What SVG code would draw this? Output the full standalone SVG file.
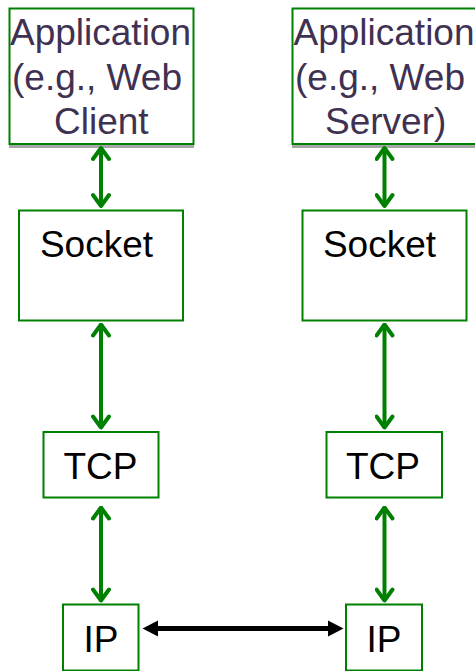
<svg xmlns="http://www.w3.org/2000/svg" width="475" height="671" viewBox="0 0 475 671">
  <style>
    .box { fill: #ffffff; stroke: #008000; stroke-width: 2; }
    .shadow { fill: #a6a6a6; }
    .app { font-family: "Liberation Sans", Arial, sans-serif; font-size: 37px; fill: #3f3151; }
    .lbl { font-family: "Liberation Sans", Arial, sans-serif; font-size: 37px; fill: #000000; text-anchor: middle; }
    .g { stroke: #008000; stroke-width: 4; fill: none; }
    .k { stroke: #000000; stroke-width: 5; fill: none; }
  </style>
  <defs>
    <marker id="chev" markerUnits="userSpaceOnUse" viewBox="-14 -10 16 20" markerWidth="16" markerHeight="20" refX="0" refY="0" orient="auto-start-reverse">
      <path d="M-11,-8 L0,0 L-11,8" fill="none" stroke="#008000" stroke-width="4" stroke-linecap="round" stroke-linejoin="round"/>
    </marker>
    <marker id="tri" markerUnits="userSpaceOnUse" viewBox="0 -9 16 18" markerWidth="16" markerHeight="18" refX="5" refY="0" orient="auto-start-reverse">
      <path d="M0,-8 L15.5,0 L0,8 Z" fill="#000000"/>
    </marker>
  </defs>

  <g id="app-client">
    <rect class="shadow" x="9" y="12" width="185" height="136"/>
    <rect class="box" x="9.5" y="8.5" width="184" height="135.5"/>
    <text class="app" x="10" y="45">Application</text>
    <text class="app" x="12" y="89.5">(e.g., Web</text>
    <text class="app" x="54" y="133.5">Client</text>
  </g>

  <g id="app-server">
    <rect class="shadow" x="292" y="12" width="186" height="136"/>
    <rect class="box" x="292.5" y="8.5" width="185" height="135.5"/>
    <text class="app" x="293.5" y="45">Application</text>
    <text class="app" x="295" y="89.5">(e.g., Web</text>
    <text class="app" x="325" y="133.5">Server)</text>
  </g>

  <g id="socket-left">
    <rect class="box" x="19" y="210.5" width="164" height="110"/>
    <text class="lbl" x="96.5" y="257">Socket</text>
  </g>

  <g id="socket-right">
    <rect class="box" x="302.5" y="210.5" width="164" height="110"/>
    <text class="lbl" x="379.5" y="257">Socket</text>
  </g>

  <g id="tcp-left">
    <rect class="box" x="43.5" y="432" width="115" height="65.5"/>
    <text class="lbl" x="100.5" y="479">TCP</text>
  </g>

  <g id="tcp-right">
    <rect class="box" x="326.5" y="432" width="115.5" height="65.5"/>
    <text class="lbl" x="383" y="479">TCP</text>
  </g>

  <g id="ip-left">
    <rect class="box" x="63" y="604.5" width="75.5" height="66"/>
    <text class="lbl" x="101" y="651.5">IP</text>
  </g>

  <g id="ip-right">
    <rect class="box" x="346" y="604.5" width="76" height="66"/>
    <text class="lbl" x="384" y="651.5">IP</text>
  </g>

  <g id="connectors">
    <line class="g" x1="101" y1="148" x2="101" y2="206" marker-start="url(#chev)" marker-end="url(#chev)"/>
    <line class="g" x1="101" y1="324.5" x2="101" y2="427.5" marker-start="url(#chev)" marker-end="url(#chev)"/>
    <line class="g" x1="101" y1="507.5" x2="101" y2="600.5" marker-start="url(#chev)" marker-end="url(#chev)"/>
    <line class="g" x1="384.5" y1="148" x2="384.5" y2="206" marker-start="url(#chev)" marker-end="url(#chev)"/>
    <line class="g" x1="384.5" y1="324.5" x2="384.5" y2="427.5" marker-start="url(#chev)" marker-end="url(#chev)"/>
    <line class="g" x1="384.5" y1="507.5" x2="384.5" y2="600.5" marker-start="url(#chev)" marker-end="url(#chev)"/>
    <line class="k" x1="153" y1="628.5" x2="333" y2="628.5" marker-start="url(#tri)" marker-end="url(#tri)"/>
  </g>
</svg>
